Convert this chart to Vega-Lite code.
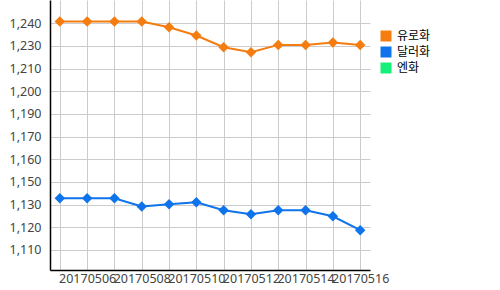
{
  "$schema": "https://vega.github.io/schema/vega-lite/v6.json",
  "autosize": {"type": "none"},
  "padding": {"left": 50, "top": 0, "right": 130, "bottom": 20},
  "width": 320,
  "height": 270,
  "background": "white",
  "config": {
    "view": {"stroke": null},
    "font": "Noto Sans CJK KR"
  },
  "data": {
    "values": [
      {"date": "20170505", "series": "유로화", "rate": 1244.3},
      {"date": "20170506", "series": "유로화", "rate": 1244.3},
      {"date": "20170507", "series": "유로화", "rate": 1244.3},
      {"date": "20170508", "series": "유로화", "rate": 1244.3},
      {"date": "20170509", "series": "유로화", "rate": 1241.0},
      {"date": "20170510", "series": "유로화", "rate": 1236.1},
      {"date": "20170511", "series": "유로화", "rate": 1229.2},
      {"date": "20170512", "series": "유로화", "rate": 1226.3},
      {"date": "20170513", "series": "유로화", "rate": 1230.6},
      {"date": "20170514", "series": "유로화", "rate": 1230.6},
      {"date": "20170515", "series": "유로화", "rate": 1232.0},
      {"date": "20170516", "series": "유로화", "rate": 1230.6},
      {"date": "20170505", "series": "달러화", "rate": 1140.4},
      {"date": "20170506", "series": "달러화", "rate": 1140.4},
      {"date": "20170507", "series": "달러화", "rate": 1140.4},
      {"date": "20170508", "series": "달러화", "rate": 1135.5},
      {"date": "20170509", "series": "달러화", "rate": 1136.9},
      {"date": "20170510", "series": "달러화", "rate": 1138.0},
      {"date": "20170511", "series": "달러화", "rate": 1133.3},
      {"date": "20170512", "series": "달러화", "rate": 1131.0},
      {"date": "20170513", "series": "달러화", "rate": 1133.3},
      {"date": "20170514", "series": "달러화", "rate": 1133.3},
      {"date": "20170515", "series": "달러화", "rate": 1129.8},
      {"date": "20170516", "series": "달러화", "rate": 1121.6}
    ]
  },
  "encoding": {
    "x": {
      "field": "date", "type": "ordinal",
      "scale": {"type": "point", "padding": 0.36},
      "axis": {
        "title": null, "labelAngle": 0, "labelOverlap": false,
        "labelExpr": "toNumber(datum.label) % 2 == 0 ? datum.label : ''",
        "domainColor": "#000", "domainWidth": 1.5,
        "ticks": false, "labelPadding": 2,
        "grid": true, "gridColor": "#cccccc",
        "labelFontSize": 12.5, "labelColor": "#444", "labelFont": "Noto Sans"
      }
    },
    "y": {
      "field": "rate", "type": "quantitative",
      "scale": {"domain": [1098.2, 1257.0], "nice": false, "zero": false},
      "axis": {
        "title": null,
        "values": [1110, 1123.333, 1136.667, 1150, 1163.333, 1176.667, 1190, 1203.333, 1216.667, 1230, 1243.333],
        "labelExpr": "format(floor(datum.value / 10 + 0.0001) * 10, ',')",
        "domainColor": "#000", "domainWidth": 1.5,
        "ticks": false, "labelPadding": 9,
        "gridColor": "#cccccc",
        "labelFontSize": 12.5, "labelColor": "#444", "labelFont": "Noto Sans"
      }
    },
    "color": {
      "field": "series", "type": "nominal",
      "scale": {"domain": ["유로화", "달러화", "엔화"], "range": ["#F57C0F", "#0F73EB", "#14F078"]},
      "legend": {
        "title": null, "orient": "none", "legendX": 330, "legendY": 30,
        "symbolType": "square", "symbolSize": 121, "symbolStrokeWidth": 0,
        "symbolOpacity": 1,
        "labelFontSize": 12, "labelColor": "#000", "labelOffset": 5,
        "rowPadding": 4, "padding": 0
      }
    }
  },
  "layer": [
    {"mark": {"type": "line", "strokeWidth": 2}},
    {"mark": {"type": "point", "shape": "diamond", "filled": true, "size": 110, "opacity": 1}}
  ]
}
